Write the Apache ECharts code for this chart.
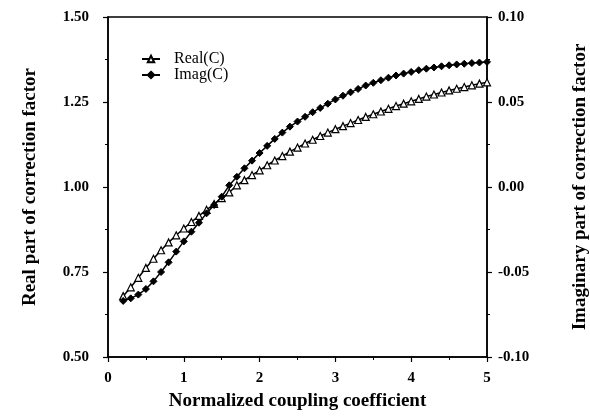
<!DOCTYPE html>
<html>
<head>
<meta charset="utf-8">
<script src="https://cdn.jsdelivr.net/npm/echarts@6/dist/echarts.min.js"></script>
<style>
  html, body { margin: 0; padding: 0; background: #fff; }
  #chart { width: 590px; height: 419px; }
</style>
</head>
<body>
<div id="chart"></div>
<script>
// normalized coupling coefficient, 0.2 .. 5.0
const couplingCoef = [
  0.2, 0.3, 0.4, 0.5, 0.6, 0.7, 0.8, 0.9, 1.0,
  1.1, 1.2, 1.3, 1.4, 1.5, 1.6, 1.7, 1.8, 1.9, 2.0,
  2.1, 2.2, 2.3, 2.4, 2.5, 2.6, 2.7, 2.8, 2.9, 3.0,
  3.1, 3.2, 3.3, 3.4, 3.5, 3.6, 3.7, 3.8, 3.9, 4.0,
  4.1, 4.2, 4.3, 4.4, 4.5, 4.6, 4.7, 4.8, 4.9, 5.0
];
const realC = [
  0.679, 0.705, 0.733, 0.762, 0.789, 0.814, 0.837, 0.858, 0.878,
  0.897, 0.915, 0.933, 0.950, 0.967, 0.984, 1.005, 1.020, 1.035, 1.049,
  1.064, 1.078, 1.091, 1.104, 1.116, 1.128, 1.139, 1.150, 1.160, 1.170,
  1.179, 1.188, 1.197, 1.206, 1.214, 1.222, 1.230, 1.238, 1.245, 1.252,
  1.259, 1.266, 1.272, 1.278, 1.284, 1.289, 1.294, 1.299, 1.304, 1.308
];
const imagC = [
  -0.0670, -0.0655, -0.0633, -0.0600, -0.0555, -0.0500, -0.0443, -0.0380, -0.0320,
  -0.0263, -0.0210, -0.0155, -0.0106, -0.0057, 0.0010, 0.0060, 0.0110, 0.0155, 0.0200,
  0.0242, 0.0283, 0.0320, 0.0355, 0.0385, 0.0413, 0.0440, 0.0465, 0.0490, 0.0515,
  0.0537, 0.0557, 0.0577, 0.0597, 0.0613, 0.0628, 0.0643, 0.0656, 0.0667, 0.0677,
  0.0687, 0.0696, 0.0703, 0.0710, 0.0716, 0.0721, 0.0725, 0.0729, 0.0732, 0.0736
];

const FONT = "'Liberation Serif', 'DejaVu Serif', serif";

const toPairs = (ys) => couplingCoef.map((x, i) => [x, ys[i]]);

const axisCommon = {
  axisLine: { show: true, onZero: false, lineStyle: { color: "#000", width: 1.5 } },
  axisTick: { show: true, length: 5, lineStyle: { color: "#000", width: 1.2 } },
  minorTick: { show: true, splitNumber: 2, length: 3, lineStyle: { color: "#000", width: 1 } },
  splitLine: { show: false },
  axisLabel: { color: "#000", fontFamily: FONT, fontWeight: "bold", fontSize: 15 },
  nameTextStyle: { color: "#000", fontFamily: FONT, fontWeight: "bold", fontSize: 19 }
};

const chart = echarts.init(document.getElementById("chart"));

chart.setOption({
  animation: false,
  backgroundColor: "#fff",
  grid: {
    left: 108,
    right: 103,
    top: 17,
    bottom: 62,
    outerBoundsMode: "none",
    show: true,
    borderColor: "#000",
    borderWidth: 1.5
  },
  legend: {
    left: 141,
    top: 51,
    padding: 0,
    orient: "vertical",
    itemWidth: 18,
    itemHeight: 8,
    itemGap: 0,
    textStyle: { color: "#000", fontFamily: FONT, fontSize: 16, lineHeight: 16, padding: [0, 0, 0, 9] },
    data: ["Real(C)", "Imag(C)"]
  },
  xAxis: Object.assign({}, axisCommon, {
    type: "value",
    min: 0,
    max: 5,
    interval: 1,
    name: "Normalized coupling coefficient",
    nameLocation: "middle",
    nameGap: 35,
    axisLabel: Object.assign({}, axisCommon.axisLabel, { margin: 14 })
  }),
  yAxis: [
    Object.assign({}, axisCommon, {
      type: "value",
      position: "left",
      min: 0.5,
      max: 1.5,
      interval: 0.25,
      name: "Real part of correction factor",
      nameLocation: "middle",
      nameGap: 68,
      axisLabel: Object.assign({}, axisCommon.axisLabel, {
        margin: 19,
        formatter: (v) => v.toFixed(2)
      })
    }),
    Object.assign({}, axisCommon, {
      type: "value",
      position: "right",
      min: -0.1,
      max: 0.1,
      interval: 0.05,
      name: "Imaginary part of correction factor",
      nameLocation: "middle",
      nameGap: 84,
      axisLabel: Object.assign({}, axisCommon.axisLabel, {
        margin: 11,
        formatter: (v) => v.toFixed(2)
      })
    })
  ],
  series: [
    {
      name: "Real(C)",
      type: "line",
      yAxisIndex: 0,
      data: toPairs(realC),
      symbol: "triangle",
      symbolSize: 7,
      lineStyle: { color: "#000", width: 1.5 },
      itemStyle: { color: "#fff", borderColor: "#000", borderWidth: 1.2 }
    },
    {
      name: "Imag(C)",
      type: "line",
      yAxisIndex: 1,
      data: toPairs(imagC),
      symbol: "diamond",
      symbolSize: 7,
      lineStyle: { color: "#000", width: 1.5 },
      itemStyle: { color: "#000", borderColor: "#000", borderWidth: 1 }
    }
  ]
});
</script>
</body>
</html>
